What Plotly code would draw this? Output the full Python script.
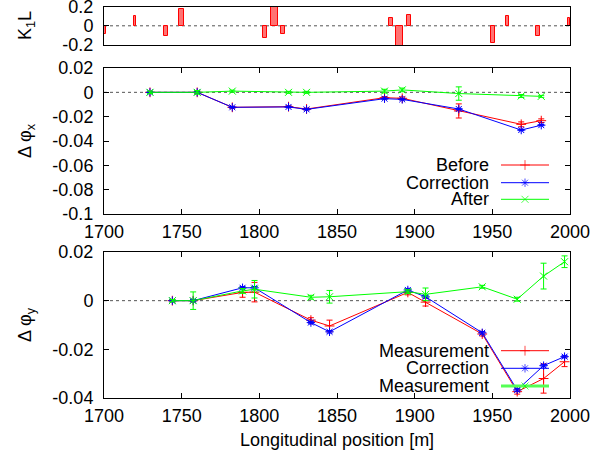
import plotly.graph_objects as go

# ---------------- data ----------------
# top panel: quadrupole strengths K1L
k1l_pos = [1700.7, 1720.0, 1740.0, 1749.8, 1803.6, 1809.8, 1815.2, 1884.8, 1890.2, 1896.2, 1950.4, 1959.8, 1979.3, 1999.3]
k1l_val = [-0.09, 0.105, -0.109, 0.175, -0.13, 0.21, -0.09, 0.087, -0.21, 0.12, -0.18, 0.105, -0.11, 0.087]
k1l_wid = [1.5, 1.5, 2.5, 3.0, 3.0, 4.4, 2.5, 2.5, 4.4, 2.5, 2.5, 1.5, 3.0, 1.5]

# middle panel: horizontal phase advance
sx = [1729.6, 1760.0, 1782.6, 1818.8, 1830.4, 1880.6, 1892.0, 1928.4, 1968.6, 1981.5]
dphx_before = [0.0, 0.0, -0.0123, -0.0118, -0.0137, -0.0044, -0.0049, -0.0153, -0.0263, -0.0233]
dphx_before_err = [0.0008, 0.0008, 0.0008, 0.0008, 0.0008, 0.001, 0.0012, 0.0058, 0.002, 0.0015]
dphx_corr = [0.0, 0.0, -0.0123, -0.0120, -0.0140, -0.0052, -0.0058, -0.0137, -0.0310, -0.0270]
dphx_corr_err = [0.0005] * 10
dphx_after = [0.0, 0.0, 0.001, 0.0, 0.0, 0.001, 0.002, -0.001, -0.003, -0.0033]
dphx_after_err = [0.001, 0.0015, 0.0008, 0.0008, 0.0008, 0.0015, 0.0015, 0.0055, 0.0012, 0.0008]

# bottom panel: vertical phase advance
sy = [1744.0, 1757.4, 1789.2, 1796.9, 1833.2, 1845.2, 1895.6, 1907.0, 1943.5, 1966.0, 1983.0, 1996.5]
dphy_meas = [0.0, 0.0, 0.0034, 0.0035, -0.0080, -0.0104, 0.0034, -0.0006, -0.0137, -0.0374, -0.0320, -0.0251]
dphy_meas_err = [0.0005, 0.0005, 0.002, 0.004, 0.001, 0.0024, 0.001, 0.0016, 0.0008, 0.001, 0.006, 0.002]
dphy_corr = [0.0, 0.0, 0.0053, 0.0053, -0.0090, -0.0128, 0.0044, 0.0016, -0.0132, -0.0367, -0.0267, -0.0230]
dphy_corr_err = [0.0005] * 12
dphy_after = [0.0, 0.0, 0.0040, 0.0047, 0.0014, 0.0016, 0.0037, 0.0026, 0.0057, 0.0006, 0.0101, 0.0160]
dphy_after_err = [0.0005, 0.0036, 0.001, 0.0036, 0.0008, 0.0026, 0.0008, 0.0026, 0.0006, 0.0008, 0.0053, 0.0024]

x_ticks = [1700, 1750, 1800, 1850, 1900, 1950, 2000]
yk_ticks = [-0.2, 0, 0.2]
yk_text = ["-0.2", "0", "0.2"]
yx_ticks = [0.02, 0, -0.02, -0.04, -0.06, -0.08, -0.1]
yx_text = ["0.02", "0", "-0.02", "-0.04", "-0.06", "-0.08", "-0.1"]
yy_ticks = [0.02, 0, -0.02, -0.04]
yy_text = ["0.02", "0", "-0.02", "-0.04"]

legend1 = ["Before", "Correction", "After"]
legend2 = ["Measurement", "Correction", "Measurement"]

RED, BLUE, GREEN = "#ff0000", "#0000ff", "#00ff00"
FONT = "Liberation Sans, Arial, Helvetica, sans-serif"
FS = 18

# ---------------- layout geometry (pixels) ----------------
W, H = 601, 459
L, R, T, B = 104, 31, 7, 61
XR = (1700, 2000)
PANEL_PX = {"y": (7, 45), "y2": (68, 214), "y3": (252, 398)}
YR = {"y": (-0.2, 0.2), "y2": (-0.1, 0.02), "y3": (-0.04, 0.02)}
PH = H - T - B
PW = W - L - R


def dom(ya):
    top, bot = PANEL_PX[ya]
    return [(H - B - bot) / PH, (H - B - top) / PH]


def px_to_x(px):
    return XR[0] + (px - L) / PW * (XR[1] - XR[0])


def py_to_y(py, ya):
    top, bot = PANEL_PX[ya]
    lo, hi = YR[ya]
    return hi - (py - top) / (bot - top) * (hi - lo)


fig = go.Figure()

# top bars
fig.add_trace(go.Bar(x=k1l_pos, y=k1l_val, width=k1l_wid,
                     marker=dict(color="rgba(255,80,80,0.8)", line=dict(color=RED, width=1)),
                     xaxis="x", yaxis="y", showlegend=False))


def series(x, y, err, color, symbol, xa, ya):
    return go.Scatter(x=x, y=y, mode="lines+markers", xaxis=xa, yaxis=ya, showlegend=False,
                      line=dict(color=color, width=1),
                      marker=dict(symbol=symbol, size=7, color=color, line=dict(color=color, width=1)),
                      error_y=dict(type="data", array=err, visible=True, color=color, thickness=1, width=3))


fig.add_trace(series(sx, dphx_before, dphx_before_err, RED, "cross-thin-open", "x2", "y2"))
fig.add_trace(series(sx, dphx_corr, dphx_corr_err, BLUE, "asterisk-open", "x2", "y2"))
fig.add_trace(series(sx, dphx_after, dphx_after_err, GREEN, "x-thin-open", "x2", "y2"))

fig.add_trace(series(sy, dphy_meas, dphy_meas_err, RED, "cross-thin-open", "x3", "y3"))
fig.add_trace(series(sy, dphy_corr, dphy_corr_err, BLUE, "asterisk-open", "x3", "y3"))
fig.add_trace(series(sy, dphy_after, dphy_after_err, GREEN, "x-thin-open", "x3", "y3"))

# manual gnuplot-style keys (text left of the sample)
rows1 = [165, 182.7, 199.3]
rows2 = [350.7, 368.3, 386.0]
syms = ["cross-thin-open", "asterisk-open", "x-thin-open"]
cols = [RED, BLUE, GREEN]
annotations = []
for labels, rows, xa, ya, big_green in ((legend1, rows1, "x2", "y2", False),
                                        (legend2, rows2, "x3", "y3", True)):
    for i, (lab, ry) in enumerate(zip(labels, rows)):
        c, w = cols[i], 1
        if big_green and i == 2:
            c, w = "#55ff55", 3
        yv = py_to_y(ry, ya)
        fig.add_trace(go.Scatter(x=[px_to_x(501), px_to_x(525), px_to_x(549)], y=[yv, yv, yv],
                                 mode="lines+markers", xaxis=xa, yaxis=ya, showlegend=False,
                                 hoverinfo="skip", line=dict(color=c, width=w),
                                 marker=dict(symbol=syms[i], size=[0, 7, 0], color=cols[i],
                                             line=dict(color=cols[i], width=1))))
        annotations.append(dict(x=px_to_x(491), y=yv, xref=xa, yref=ya, text=lab, showarrow=False,
                                xanchor="right", yanchor="middle", font=dict(size=FS, color="black")))

# axis titles
TX = (26 - L) / PW
annotations += [
    dict(x=TX, y=sum(dom("y")) / 2, xref="paper", yref="paper", text="K<sub>1</sub>L", textangle=-90,
         showarrow=False, xanchor="center", yanchor="middle", font=dict(size=FS)),
    dict(x=TX, y=sum(dom("y2")) / 2, xref="paper", yref="paper", text="Δ φ<sub>x</sub>", textangle=-90,
         showarrow=False, xanchor="center", yanchor="middle", font=dict(size=FS)),
    dict(x=TX, y=sum(dom("y3")) / 2, xref="paper", yref="paper", text="Δ φ<sub>y</sub>", textangle=-90,
         showarrow=False, xanchor="center", yanchor="middle", font=dict(size=FS)),
    dict(x=0.5, y=(H - B - 440) / PH, xref="paper", yref="paper", text="Longitudinal position [m]",
         showarrow=False, xanchor="center", yanchor="middle", font=dict(size=FS)),
]

shapes = []
for ya, xa in (("y", "x"), ("y2", "x2"), ("y3", "x3")):
    shapes.append(dict(type="line", xref=f"{xa} domain", yref=ya, x0=0, x1=1, y0=0, y1=0,
                       line=dict(color="#555555", width=1, dash="dot"), layer="below"))

axis_common = dict(showline=True, linecolor="black", linewidth=1, mirror="allticks",
                   ticks="inside", ticklen=5, tickcolor="black", showgrid=False, zeroline=False,
                   automargin=False, ticklabeloverflow="allow",
                   tickfont=dict(size=FS, color="black"))

fig.update_layout(
    template="none",
    width=W, height=H,
    margin=dict(l=L, r=R, t=T, b=B, autoexpand=False),
    paper_bgcolor="white", plot_bgcolor="white",
    font=dict(family=FONT, size=FS, color="black"),
    bargap=0,
    xaxis=dict(domain=[0, 1], anchor="y", range=list(XR), showticklabels=False,
               showline=True, linecolor="black", linewidth=1, mirror=True, ticks="",
               showgrid=False, zeroline=False, automargin=False),
    yaxis=dict(domain=dom("y"), anchor="x", range=[YR["y"][0] - 0.004, YR["y"][1]], tickvals=yk_ticks,
               ticktext=yk_text, ticklabelstandoff=6, **axis_common),
    xaxis2=dict(domain=[0, 1], anchor="y2", range=list(XR), tickvals=x_ticks,
                ticktext=[str(v) for v in x_ticks], ticklabelstandoff=1, **axis_common),
    yaxis2=dict(domain=dom("y2"), anchor="x2", range=list(YR["y2"]), tickvals=yx_ticks,
                ticktext=yx_text, ticklabelstandoff=6, **axis_common),
    xaxis3=dict(domain=[0, 1], anchor="y3", range=list(XR), tickvals=x_ticks,
                ticktext=[str(v) for v in x_ticks], ticklabelstandoff=1, **axis_common),
    yaxis3=dict(domain=dom("y3"), anchor="x3", range=list(YR["y3"]), tickvals=yy_ticks,
                ticktext=yy_text, ticklabelstandoff=6, **axis_common),
    annotations=annotations,
    shapes=shapes,
    showlegend=False,
)

fig.write_html("out.html", config={"displayModeBar": False},
               post_script="document.body.style.margin='0';document.body.style.padding='0';")
